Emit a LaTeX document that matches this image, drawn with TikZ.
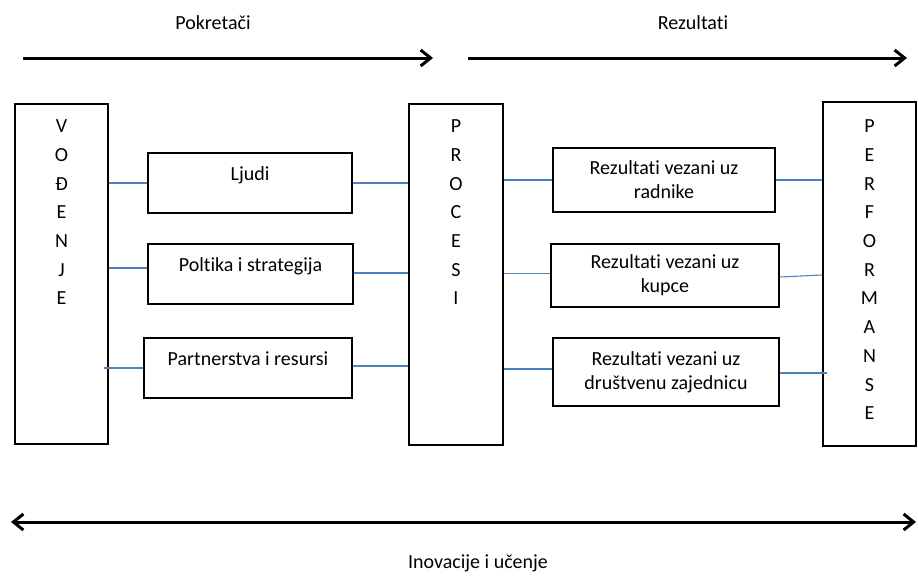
\documentclass[tikz,border=0pt]{standalone}
\usepackage{fontspec}
\setmainfont{Carlito}[Ligatures=NoCommon]
\usetikzlibrary{arrows.meta}
\definecolor{linkblue}{RGB}{79,129,189}
\tikzset{
    every node/.style={font=\fontsize{20}{24}\selectfont},
    box/.style 2 args={draw, line width=2.5pt, minimum width=#1, minimum height=#2, inner sep=0pt},
    oneline/.style={text height=14pt, text depth=19pt},
    twoline/.style={align=center},
    letters/.style={anchor=north, yshift=-17pt, align=center, inner sep=0pt,
        font=\fontsize{20}{28.7}\selectfont},
    link/.style={draw=linkblue, line width=1.1pt},
    flow/.style={line width=3pt, -{Straight Barb[length=10pt, width=16pt]}},
    bothflow/.style={line width=3pt, {Straight Barb[length=10pt, width=16pt]}-{Straight Barb[length=10pt, width=16pt]}},
}

\begin{document}
\begin{tikzpicture}[x=1pt,y=-1pt]
\useasboundingbox (0,0) rectangle (918,576);
% top arrows
\node (pokretaci) at (213,23) {Pokretači};
\node (rezultati) at (693,23) {Rezultati};
\coordinate (pokA) at (23,58);
\coordinate (pokB) at (433,58);
\coordinate (rezA) at (468,58);
\coordinate (rezB) at (907,58);
\draw [flow] (pokA) -- (pokB);
\draw [flow] (rezA) -- (rezB);
% columns
\node (vodjenje) [box={93pt}{340pt}, label={[letters]north:V\\O\\Đ\\E\\N\\J\\E}] at (61.5,274) {};
\node (procesi) [box={94pt}{341pt}, label={[letters]north:P\\R\\O\\C\\E\\S\\I}] at (456,274.5) {};
\node (performanse) [box={93pt}{344pt}, label={[letters,yshift=-2pt]north:P\\E\\R\\F\\O\\R\\M\\A\\N\\S\\E}] at (869.5,274) {};
% drivers
\node (ljudi) [box={204pt}{60pt}, oneline] at (250,183) {Ljudi};
\node (politika) [box={205pt}{60pt}, oneline] at (250.5,274) {Poltika i strategija};
\node (partnerstva) [box={208pt}{60pt}, oneline] at (248,368) {Partnerstva i resursi};
% results
\node (radnici) [box={222pt}{64pt}, twoline] at (664,180) {Rezultati vezani uz\\radnike};
\node (kupci) [box={228pt}{63pt}, twoline] at (665,275.5) {Rezultati vezani uz\\kupce};
\node (zajednica) [box={226pt}{68pt}, twoline] at (666,372) {Rezultati vezani uz\\društvenu zajednicu};
% links
\draw [link] (vodjenje.east |- ljudi.west) -- (ljudi.west);
\draw [link] (ljudi.east) -- (procesi.west |- ljudi.east);
\draw [link] ([yshift=6pt]vodjenje.east |- politika.west) -- ([yshift=6pt]politika.west);
\draw [link] ([yshift=1pt]politika.east) -- ([yshift=1pt]procesi.west |- politika.east);
\draw [link] ([xshift=-5pt]vodjenje.east |- partnerstva.west) -- (partnerstva.west);
\draw [link] ([yshift=2pt]partnerstva.east) -- ([yshift=2pt]procesi.west |- partnerstva.east);
\draw [link] (procesi.east |- radnici.west) -- (radnici.west);
\draw [link] (radnici.east) -- (performanse.west |- radnici.east);
\draw [link] ([yshift=2pt]procesi.east |- kupci.west) -- ([yshift=2pt]kupci.west);
\draw [link] ([yshift=-1.5pt]kupci.east) -- ([yshift=0.5pt]performanse.west |- kupci.east);
\draw [link] ([yshift=3pt]procesi.east |- zajednica.west) -- ([yshift=3pt]zajednica.west);
\draw [link] ([yshift=-1pt]zajednica.east) -- ([xshift=5pt,yshift=-1pt]performanse.west |- zajednica.east);
% bottom arrow
\coordinate (inovA) at (11,522);
\coordinate (inovB) at (916,522);
\draw [bothflow] (inovA) -- (inovB);
\node (inovacije) at (478,563) {Inovacije i učenje};
\end{tikzpicture}
\end{document}
